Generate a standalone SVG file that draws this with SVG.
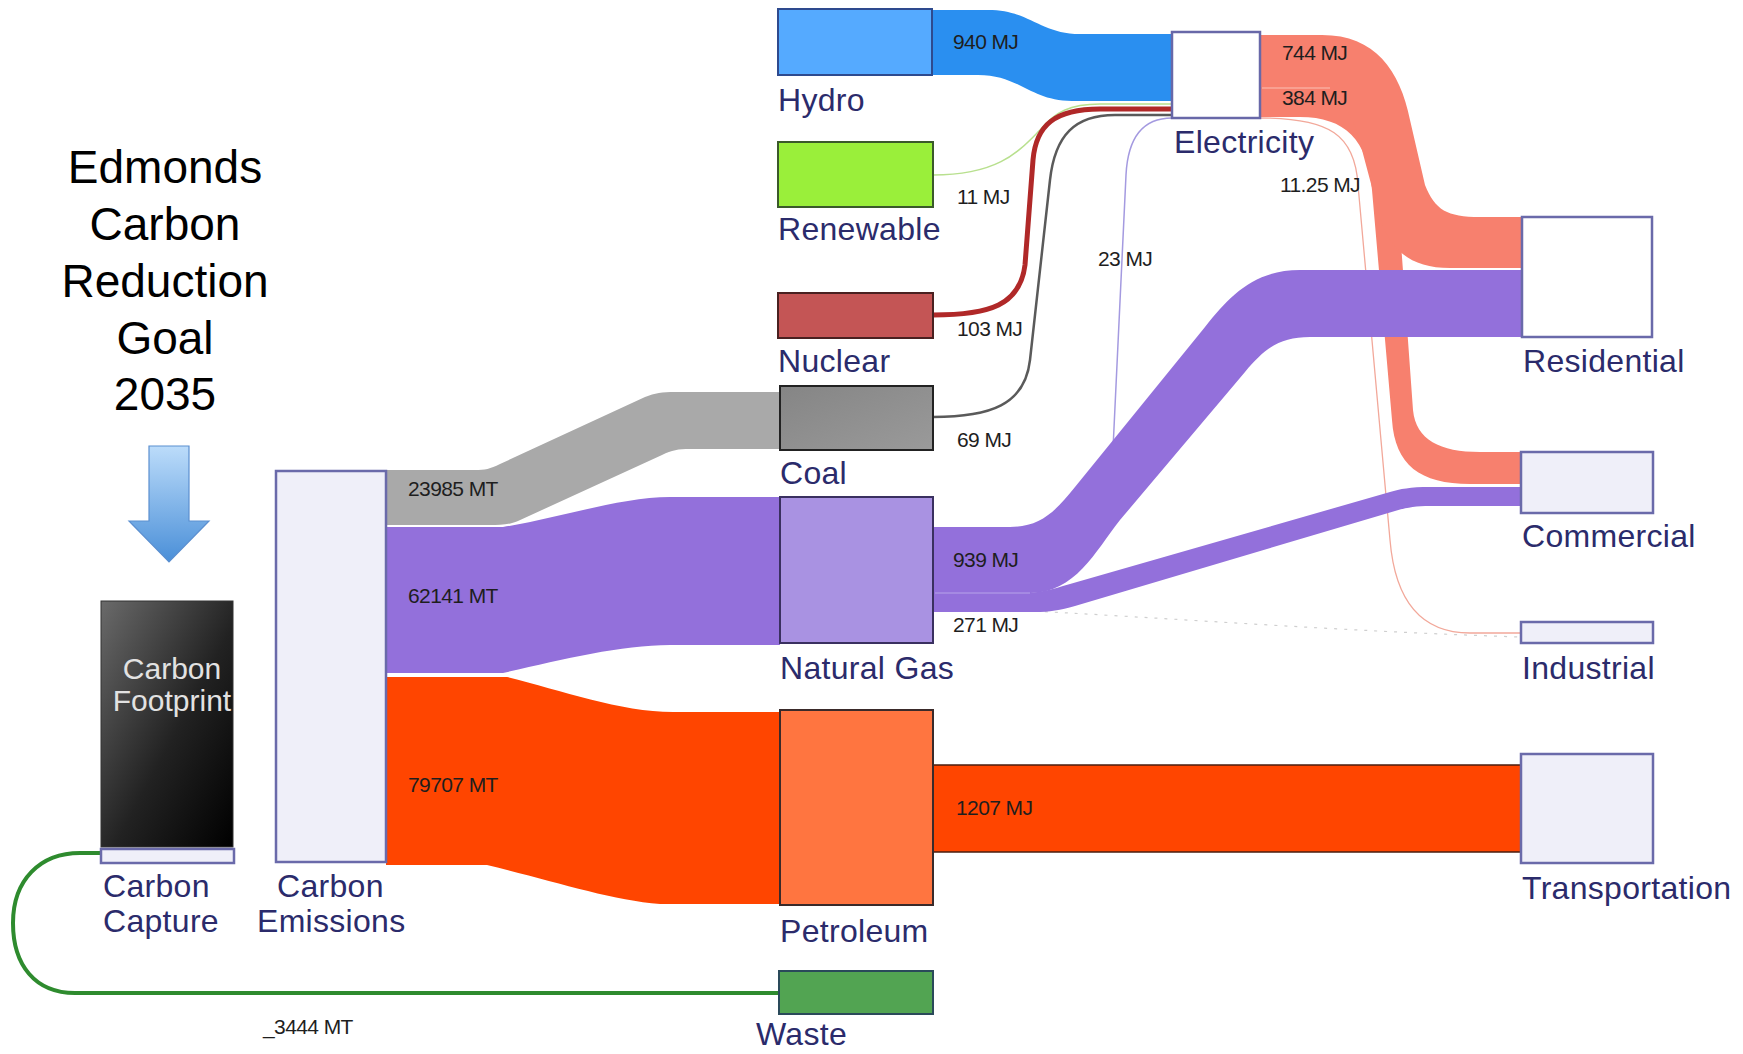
<svg xmlns="http://www.w3.org/2000/svg" width="1743" height="1054" viewBox="0 0 1743 1054">
<defs>
<style>
.lbl{font-family:"Liberation Sans",Arial,sans-serif;font-size:32px;fill:#2b2b6b;letter-spacing:0.3px}
.val{font-family:"Liberation Sans",Arial,sans-serif;font-size:21px;fill:#1e1e1e;letter-spacing:-0.6px}
.title{font-family:"Liberation Sans",Arial,sans-serif;font-size:46px;fill:#000;text-anchor:middle}
.sink{fill:#efeff9;stroke:#6a6aaa;stroke-width:2.5}
</style>
<linearGradient id="gArrow" x1="0" y1="0" x2="0" y2="1">
<stop offset="0" stop-color="#bcdcfa"/><stop offset="1" stop-color="#4a8fd8"/>
</linearGradient>
<linearGradient id="gFoot" x1="0" y1="0" x2="1" y2="1">
<stop offset="0" stop-color="#6a6a6a"/><stop offset="0.55" stop-color="#222"/><stop offset="1" stop-color="#000"/>
</linearGradient>
<linearGradient id="gCoal" x1="0" y1="0" x2="1" y2="1">
<stop offset="0" stop-color="#858585"/><stop offset="1" stop-color="#9a9a9a"/>
</linearGradient>
</defs>
<rect width="1743" height="1054" fill="#fff"/>

<g id="title">
<text class="title" x="165" y="183">Edmonds</text>
<text class="title" x="165" y="240">Carbon</text>
<text class="title" x="165" y="297">Reduction</text>
<text class="title" x="165" y="354">Goal</text>
<text class="title" x="165" y="410">2035</text>
<path d="M149,446 H189 V521 H209 L169,562 L129,521 H149 Z" fill="url(#gArrow)" stroke="#5b8fd0" stroke-width="1.2"/>
</g>

<g id="connectors">
<path d="M1172,118 C1145,118 1128,135 1126,175 L1112,470 C1110,520 1080,575 1000,575 L933,575" fill="none" stroke="#a49ae0" stroke-width="1.5"/>
<path d="M935,607 C1100,612 1300,630 1521,637" fill="none" stroke="#cfcfcf" stroke-width="1.2" stroke-dasharray="3 7"/>
<path d="M1260,118 C1330,118 1355,135 1358,185 L1390,540 C1395,600 1420,633 1470,633 L1521,633" fill="none" stroke="#f2a89a" stroke-width="1.3"/>
<path d="M386,470 L475,470 C485,470 490,469 500,464 L645,397 C655,393 662,392 675,392 L780,392 L780,449 L690,449 C678,449 672,450 662,455 L518,521 C508,525 500,525 490,525 L386,525 Z" fill="#a9a9a9"/>
<path d="M386,527 L503,527 C560,518 620,497 670,497 L780,497 L780,645 L670,645 C620,645 560,660 503,673 L386,673 Z" fill="#9370db"/>
<path d="M386,677 L507,677 C560,690 620,712 673,712 L780,712 L780,904 L660,904 C610,900 550,880 487,865 L386,865 Z" fill="#ff4500"/>
<path d="M932,10 L988,10 C1030,10 1040,34 1080,34 L1172,34 L1172,101 L1072,101 C1030,101 1020,75 978,75 L932,75 Z" fill="#2a8ff0"/>
<path d="M933,175 C1000,175 1020,150 1040,130 C1055,112 1070,104 1100,104 L1172,104" fill="none" stroke="#b8e08e" stroke-width="1.5"/>
<path d="M933,315 C990,315 1020,305 1025,265 L1033,160 C1036,125 1055,109 1100,109 L1172,109" fill="none" stroke="#b02828" stroke-width="5"/>
<path d="M933,417 C990,417 1025,405 1030,360 L1050,180 C1055,135 1075,115 1115,115 L1172,115" fill="none" stroke="#5a5a5a" stroke-width="2.5"/>
<path d="M1260,88 L1300,88 C1360,88 1390,110 1395,160 L1413,410 C1416,440 1440,452 1480,452 L1521,452 L1521,484 L1470,484 C1420,484 1395,465 1392,420 L1372,190 C1368,140 1345,117 1300,117 L1260,117 Z" fill="#f7806e"/>
<path d="M1260,35 L1322,35 C1375,35 1400,70 1410,120 L1425,185 C1435,210 1447,217 1480,217 L1522,217 L1522,268 L1450,268 C1410,268 1388,250 1378,210 L1362,150 C1352,105 1335,88 1290,88 L1260,88 Z" fill="#f7806e"/>
<line x1="1262" y1="88" x2="1330" y2="88" stroke="#fbc0b4" stroke-width="1"/>
<path d="M933,527 L1010,527 C1040,527 1055,512 1075,487 L1205,327 C1230,295 1255,270 1300,270 L1522,270 L1522,337 L1310,337 C1280,337 1265,348 1245,372 L1120,520 C1095,552 1075,593 1030,593 L933,593 Z" fill="#9370db"/>
<path d="M933,593 L1020,593 C1040,593 1050,590 1070,584 L1390,492 C1400,489 1410,487 1430,487 L1522,487 L1522,506 L1430,506 C1415,506 1405,508 1395,511 L1075,606 C1060,610 1050,612 1035,612 L933,612 Z" fill="#9370db"/>
<line x1="935" y1="593" x2="1030" y2="593" stroke="#b7a3ea" stroke-width="1"/>
<rect x="933" y="765" width="588" height="87" fill="#ff4500" stroke="#4a1e10" stroke-width="1.5"/>
<path d="M779,993 L75,993 C35,993 13,965 13,923 C13,880 40,853 80,853 L101,853" fill="none" stroke="#2e8b2e" stroke-width="4"/>
<text class="val" x="953" y="49">940 MJ</text>
<text class="val" x="957" y="204">11 MJ</text>
<text class="val" x="957" y="336">103 MJ</text>
<text class="val" x="957" y="447">69 MJ</text>
<text class="val" x="1098" y="266">23 MJ</text>
<text class="val" x="1282" y="60">744 MJ</text>
<text class="val" x="1282" y="105">384 MJ</text>
<text class="val" x="1280" y="192">11.25 MJ</text>
<text class="val" x="953" y="567">939 MJ</text>
<text class="val" x="953" y="632">271 MJ</text>
<text class="val" x="956" y="815">1207 MJ</text>
<text class="val" x="408" y="496">23985 MT</text>
<text class="val" x="408" y="603">62141 MT</text>
<text class="val" x="408" y="792">79707 MT</text>
<text class="val" x="263" y="1034" fill="#333">_3444 MT</text>
</g>

<g id="node-carbon-footprint">
<rect x="101" y="601" width="132" height="246" fill="url(#gFoot)" stroke="#333" stroke-width="1"/>
<text x="172" y="679" font-family="Liberation Sans, Arial, sans-serif" font-size="30" fill="#e2e2e2" text-anchor="middle">Carbon</text>
<text x="172" y="711" font-family="Liberation Sans, Arial, sans-serif" font-size="30" fill="#e2e2e2" text-anchor="middle">Footprint</text>
</g>
<g id="node-carbon-capture">
<rect x="101" y="849" width="133" height="14" class="sink" stroke-width="2"/>
<text class="lbl" x="103" y="897">Carbon</text>
<text class="lbl" x="103" y="932">Capture</text>
</g>
<g id="node-carbon-emissions">
<rect x="276" y="471" width="110" height="391" class="sink"/>
<text class="lbl" x="277" y="897">Carbon</text>
<text class="lbl" x="257" y="932">Emissions</text>
</g>
<g id="node-hydro">
<rect x="778" y="9" width="154" height="66" fill="#55aaff" stroke="#2e4a8e" stroke-width="2"/>
<text class="lbl" x="778" y="111">Hydro</text>
</g>
<g id="node-renewable">
<rect x="778" y="142" width="155" height="65" fill="#9aef3a" stroke="#3a5a2a" stroke-width="2"/>
<text class="lbl" x="778" y="240">Renewable</text>
</g>
<g id="node-nuclear">
<rect x="778" y="293" width="155" height="45" fill="#c45555" stroke="#4a2020" stroke-width="2"/>
<text class="lbl" x="778" y="372">Nuclear</text>
</g>
<g id="node-coal">
<rect x="780" y="386" width="153" height="64" fill="url(#gCoal)" stroke="#222" stroke-width="2"/>
<text class="lbl" x="780" y="484">Coal</text>
</g>
<g id="node-natural-gas">
<rect x="780" y="497" width="153" height="146" fill="#a992e2" stroke="#3a3060" stroke-width="2"/>
<text class="lbl" x="780" y="679">Natural Gas</text>
</g>
<g id="node-petroleum">
<rect x="780" y="710" width="153" height="195" fill="#ff7540" stroke="#3a2a2a" stroke-width="2"/>
<text class="lbl" x="780" y="942">Petroleum</text>
</g>
<g id="node-waste">
<rect x="779" y="971" width="154" height="43" fill="#52a452" stroke="#2a4a5a" stroke-width="2"/>
<text class="lbl" x="756" y="1045">Waste</text>
</g>
<g id="node-electricity">
<rect x="1172" y="32" width="88" height="86" fill="#fff" stroke="#6868a8" stroke-width="2.5"/>
<text class="lbl" x="1174" y="153">Electricity</text>
</g>
<g id="node-residential">
<rect x="1522" y="217" width="130" height="120" fill="#fff" stroke="#6a6aaa" stroke-width="2.5"/>
<text class="lbl" x="1523" y="372">Residential</text>
</g>
<g id="node-commercial">
<rect x="1521" y="452" width="132" height="61" class="sink"/>
<text class="lbl" x="1522" y="547">Commercial</text>
</g>
<g id="node-industrial">
<rect x="1521" y="622" width="132" height="21" class="sink"/>
<text class="lbl" x="1522" y="679">Industrial</text>
</g>
<g id="node-transportation">
<rect x="1521" y="754" width="132" height="109" class="sink"/>
<text class="lbl" x="1522" y="899">Transportation</text>
</g>
</svg>
